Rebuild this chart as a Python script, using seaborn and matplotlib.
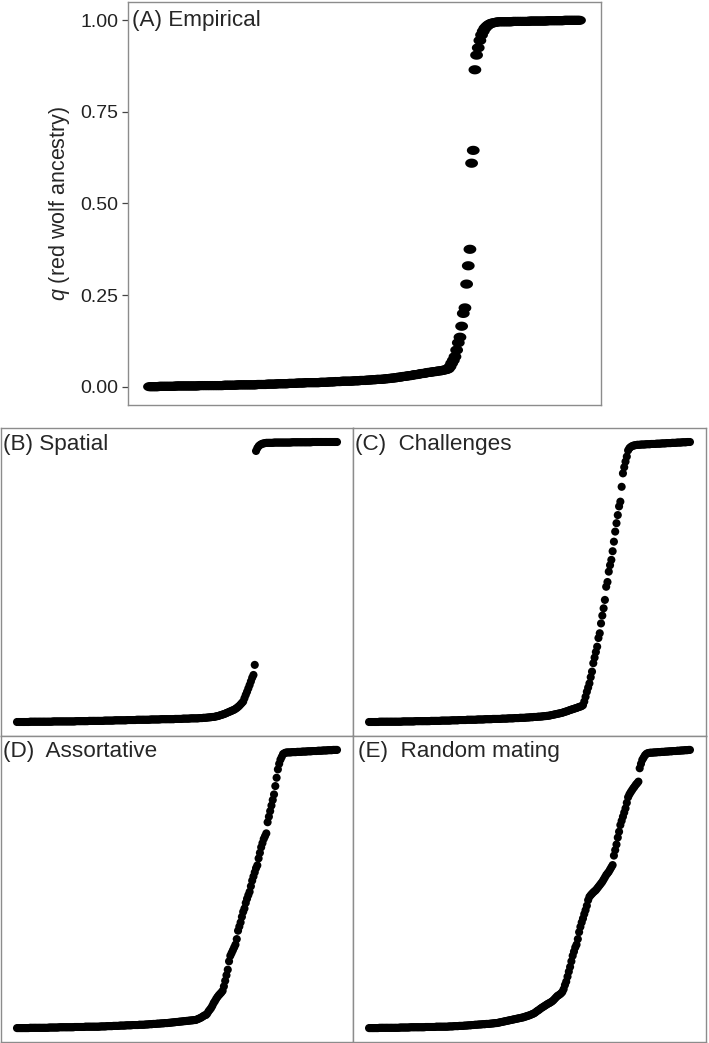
import numpy as np
import pandas as pd
import seaborn as sns
import matplotlib.pyplot as plt
from matplotlib.markers import MarkerStyle
from matplotlib.path import Path

# sorted q (red wolf ancestry) per individual
q_a = [
    .000, .000, .000, .000, .000, .000, .001, .001, .001, .001, .001, .001, .001, .001, .001, .001, .002, .002, .002, .002,
    .002, .002, .002, .002, .002, .002, .002, .002, .002, .002, .003, .003, .003, .003, .003, .003, .003, .003, .003, .003,
    .003, .003, .003, .003, .003, .004, .004, .004, .004, .004, .004, .004, .004, .005, .005, .005, .005, .005, .005, .005,
    .005, .005, .005, .005, .005, .006, .006, .006, .006, .006, .006, .007, .007, .007, .007, .007, .007, .008, .008, .008,
    .008, .008, .008, .008, .009, .009, .009, .009, .009, .010, .010, .010, .010, .010, .011, .011, .011, .011, .011, .011,
    .011, .011, .011, .012, .012, .012, .012, .012, .013, .013, .013, .013, .014, .014, .014, .014, .015, .015, .015, .015,
    .015, .015, .015, .016, .016, .016, .016, .017, .017, .017, .017, .018, .018, .018, .019, .019, .019, .020, .020, .020,
    .020, .021, .021, .022, .022, .023, .023, .024, .024, .025, .026, .026, .027, .028, .028, .029, .030, .030, .031, .032,
    .033, .033, .034, .035, .036, .036, .037, .038, .039, .039, .040, .041, .041, .042, .043, .043, .044, .045, .046, .047,
    .049, .055, .064, .072, .082, .100, .120, .135, .165, .200, .215, .280, .330, .375, .610, .645, .865, .905, .925, .945,
    .960, .970, .978, .983, .987, .990, .992, .993, .994, .995,
    .996, .996, .996, .996, .996, .996, .996, .996, .996, .997, .997, .997, .997, .997, .997, .997, .997, .997, .997,
    .998, .998, .998, .998, .998, .998, .998, .998, .998, .998, .998, .999, .999, .999, .999, .999, .999, .999, .999, .999,
    .999, 1.0, 1.0, 1.0, 1.0, 1.0, 1.0, 1.0, 1.0, 1.0, 1.0,
]

q_b = [
    .000, .000, .000, .000, .000, .000, .000, .000, .000, .000, .001, .001, .001, .001, .001, .001, .001, .001, .001, .001,
    .001, .001, .001, .001, .001, .001, .001, .001, .002, .002, .002, .002, .002, .002, .002, .002, .002, .002, .002, .002,
    .002, .002, .002, .002, .002, .002, .003, .003, .003, .003, .003, .003, .003, .003, .003, .003, .004, .004, .004, .004,
    .004, .004, .004, .004, .004, .004, .004, .004, .005, .005, .005, .005, .005, .005, .005, .005, .006, .006, .006, .006,
    .006, .006, .006, .006, .006, .006, .007, .007, .007, .007, .007, .007, .007, .008, .008, .008, .008, .008, .008, .008,
    .008, .008, .008, .008, .009, .009, .009, .009, .009, .009, .009, .009, .010, .010, .010, .010, .010, .010, .010, .010,
    .010, .010, .010, .011, .011, .011, .011, .011, .011, .012, .012, .012, .012, .012, .012, .013, .013, .013, .013, .013,
    .013, .013, .014, .014, .014, .015, .015, .015, .016, .016, .017, .017, .018, .018, .019, .020, .021, .022, .024, .025,
    .027, .028, .030, .032, .034, .036, .038, .040, .042, .044, .047, .050, .054, .058, .063, .068,
    .073, .085, .097, .108, .120, .132, .145, .158, .168, .204,
    .968, .978, .985, .989, .992, .994, .995, .996, .997, .997, .997, .997, .997, .997,
    .998, .998, .998, .998, .998, .998, .998, .998, .998, .998, .998, .998, .998, .998,
    .999, .999, .999, .999, .999, .999, .999, .999, .999, .999, .999, .999, .999, .999, .999, .999,
    1.0, 1.0, 1.0, 1.0, 1.0, 1.0, 1.0, 1.0, 1.0, 1.0, 1.0, 1.0, 1.0, 1.0, 1.0, 1.0, 1.0, 1.0, 1.0, 1.0,
]

q_c = [
    .000, .000, .000, .000, .000, .000, .000, .000, .001, .001, .001, .001, .001, .001, .001, .001, .001, .001, .001, .001,
    .001, .001, .001, .001, .001, .001, .002, .002, .002, .002, .002, .002, .002, .002, .002, .002, .003, .003, .003, .003,
    .003, .003, .003, .003, .003, .003, .003, .003, .004, .004, .004, .004, .004, .004, .004, .004, .005, .005, .005, .005,
    .005, .005, .005, .005, .006, .006, .006, .006, .006, .006, .007, .007, .007, .007, .007, .007, .008, .008, .008, .008,
    .008, .008, .008, .008, .009, .009, .009, .009, .009, .009, .010, .010, .010, .010, .010, .010, .011, .011, .011, .011,
    .011, .011, .011, .012, .012, .012, .012, .012, .013, .013, .013, .013, .013, .014, .014, .014, .014, .015, .015, .015,
    .015, .015, .016, .016, .016, .017, .017, .017, .018, .018, .018, .019, .019, .019, .020, .020, .021, .021, .022, .022,
    .023, .024, .025, .026, .027, .028, .029, .030, .031, .032, .033, .035, .036, .038, .039, .041, .043, .044, .046, .047,
    .049, .050, .052, .054, .055, .057, .060,
    .073, .090, .108, .123, .138, .160, .180, .210, .230, .250, .269, .300, .317, .352, .380, .406, .436, .483, .500, .537,
    .560, .579, .610, .644, .680, .710, .739, .770, .787, .840, .888, .910, .930, .948, .970,
    .978, .982, .985, .987, .988, .989, .990, .990, .990,
    .991, .991, .991, .991, .992, .992, .992, .992, .993, .993, .993, .993, .994, .994, .994, .994,
    .995, .995, .995, .995, .996, .996, .996, .996, .997, .997, .997, .997, .998, .998, .998, .998,
    .999, .999, .999, .999, 1.0, 1.0, 1.0,
]

q_d = [
    .000, .000, .000, .000, .000, .000, .000, .000, .000, .000, .001, .001, .001, .001, .001, .001, .001, .001, .001, .001,
    .001, .001, .001, .001, .001, .002, .002, .002, .002, .002, .002, .002, .002, .003, .003, .003, .003, .003, .003, .003,
    .003, .003, .003, .003, .003, .004, .004, .004, .004, .004, .004, .004, .004, .005, .005, .005, .005, .005, .005, .005,
    .005, .005, .005, .005, .005, .006, .006, .006, .006, .006, .007, .007, .007, .007, .007, .008, .008, .008, .008, .008,
    .009, .009, .009, .009, .009, .010, .010, .010, .010, .010, .011, .011, .011, .011, .011, .012, .012, .012, .012, .012,
    .013, .013, .013, .014, .014, .014, .015, .015, .015, .016, .016, .016, .017, .017, .017, .018, .018, .018, .019, .019,
    .020, .020, .021, .021, .022, .022, .023, .023, .024, .024, .025, .025, .026, .026, .027, .027, .028, .028, .029, .029,
    .031, .033, .035, .037, .040, .043, .046,
    .047, .052, .060, .066, .072, .080, .090, .097, .105, .112, .118, .123, .128, .134, .150, .170, .190, .210, .240, .260,
    .270, .280, .290, .300, .320, .350, .365, .380, .400, .418, .430, .450, .465, .478, .490, .510, .530, .545, .560, .575,
    .585, .610, .630, .650, .665, .680, .690, .700, .740, .760, .780, .800, .820, .840, .870, .900, .930, .950, .965, .975,
    .985, .988, .990,
    .991, .991, .991, .991, .992, .992, .992, .992, .993, .993, .993, .993, .994, .994, .994, .994, .995, .995, .995, .995,
    .996, .996, .996, .996, .997, .997, .997, .997, .998, .998, .998, .998, .999, .999, .999, .999, 1.0, 1.0, 1.0, 1.0,
]

q_e = [
    .000, .000, .000, .000, .000, .000, .000, .000, .001, .001, .001, .001, .001, .001, .001, .001, .001, .001, .001, .001,
    .001, .001, .001, .001, .002, .002, .002, .002, .002, .002, .002, .002, .003, .003, .003, .003, .003, .003, .003, .003,
    .003, .003, .003, .003, .004, .004, .004, .004, .004, .004, .004, .004, .005, .005, .005, .005, .005, .005, .005, .005,
    .005, .005, .006, .006, .006, .006, .007, .007, .007, .007, .008, .008, .008, .008, .009, .009, .009, .010, .010, .010,
    .011, .011, .012, .012, .012, .013, .013, .013, .014, .014, .014, .015, .015, .015, .016, .016, .017, .017, .018, .018,
    .019, .020, .021, .022, .023, .024, .025, .026, .027, .028, .029, .030, .031, .032, .033, .034, .035, .036, .037, .038,
    .039, .041, .042, .044, .045, .047, .049, .051,
    .053, .056, .060, .063, .066, .070, .073, .076, .079, .082, .085, .088, .090, .093, .096, .100, .105, .110, .115, .118,
    .121, .125, .130, .140, .155, .167, .185, .203, .220, .240, .260, .275, .290, .300, .320, .345, .364, .380, .394, .410,
    .424, .440, .460, .472, .478, .483, .488, .492, .496, .502, .508, .514, .520, .526, .534, .542, .550, .556, .562, .570,
    .578, .586, .620, .640, .660, .685, .706, .730, .745, .760, .775, .790, .810, .830, .840, .848, .855, .862, .868, .875,
    .880, .886, .934, .950, .964, .972, .980, .985, .988,
    .989, .990, .990, .990, .991, .991, .991, .992, .992, .992, .993, .993, .993, .994, .994, .994, .995, .995, .995,
    .996, .996, .996, .997, .997, .997, .998, .998, .998, .999, .999, .999, 1.0, 1.0,
]

panel_data = [q_a, q_b, q_c, q_d, q_e]
panel_labels = ["(A) Empirical", "(B) Spatial", "(C)  Challenges", "(D)  Assortative", "(E)  Random mating"]
y_ticks = [0.0, 0.25, 0.50, 0.75, 1.00]
y_ticklabels = ["0.00", "0.25", "0.50", "0.75", "1.00"]

sns.set_style("white")
plt.rcParams['font.family'] = ['Liberation Sans', 'DejaVu Sans']
plt.rcParams['mathtext.fontset'] = 'custom'
plt.rcParams['mathtext.it'] = 'Liberation Sans:italic'
plt.rcParams['mathtext.rm'] = 'Liberation Sans'

W, H = 709, 1043
fig = plt.figure(figsize=(W / 100, H / 100), dpi=100)


def px_axes(l, t, r, b):
    return fig.add_axes([l / W, 1 - b / H, (r - l) / W, (b - t) / H])


# panel A dots come out squashed in the original, so use an oval marker
th = np.linspace(0, 2 * np.pi, 41)
oval = MarkerStyle(Path(np.column_stack([np.cos(th), 0.72 * np.sin(th)])))

boxes = [(128, 2, 601, 405), (1, 428, 353, 736), (353, 428, 706, 736),
         (1, 736, 353, 1042), (353, 736, 706, 1042)]
label_pos = [(0.008, 0.955), (0.007, 0.945), (0.006, 0.945), (0.006, 0.948), (0.015, 0.948)]

for k, (q, lab, box, lp) in enumerate(zip(panel_data, panel_labels, boxes, label_pos)):
    ax = px_axes(*box)
    df = pd.DataFrame({"rank": np.arange(len(q)), "q": q})
    if k == 0:
        sns.scatterplot(data=df, x="rank", y="q", ax=ax, color="black", marker=oval,
                        s=85, linewidth=0, edgecolor="none", legend=False)
    else:
        sns.scatterplot(data=df, x="rank", y="q", ax=ax, color="black", marker="o",
                        s=34, linewidth=0, edgecolor="none", legend=False)
    n = len(q) - 1
    ax.set_xlim(-0.05 * n, 1.05 * n)
    ax.set_ylim(-0.05, 1.05)
    ax.set_xlabel("")
    ax.set_ylabel("")
    ax.set_xticks([])
    for sp in ax.spines.values():
        sp.set_color("#8c8c8c")
        sp.set_linewidth(1.0)
    ax.text(lp[0], lp[1], lab, transform=ax.transAxes, ha="left", va="center", fontsize=16.2)
    if k == 0:
        ax.set_yticks(y_ticks)
        ax.set_yticklabels(y_ticklabels, fontsize=14, color="#222222")
        ax.tick_params(axis="y", left=True, length=4, width=0.9, color="#444444", pad=3)
        ax.set_ylabel(r"$q$ (red wolf ancestry)", fontsize=15.5)
        ax.yaxis.set_label_coords(-0.118, 0.5)
    else:
        ax.set_yticks([])

fig.savefig("out.png", dpi=100)
